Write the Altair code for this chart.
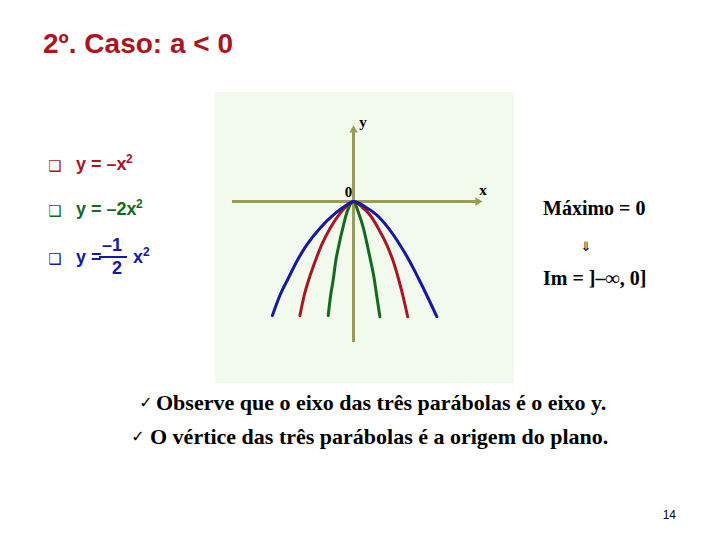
import altair as alt
import pandas as pd

# ---------------- data (math units) ----------------
# y = -x^2/2 (blue)
blue_x = [-2.95, -2.67, -2.37, -2.07, -1.70, -1.22, -0.73, -0.25, 0.0, 0.42, 0.84, 1.27, 1.69, 2.05, 2.36, 2.66, 3.03]
blue_y = [-4.15, -3.40, -2.79, -2.19, -1.58, -0.97, -0.49, -0.13, 0.0, -0.19, -0.49, -0.97, -1.58, -2.19, -2.79, -3.40, -4.19]
# y = -x^2 (red)
red_x = [-1.95, -1.79, -1.61, -1.40, -1.16, -0.85, -0.49, -0.21, 0.0, 0.30, 0.60, 0.90, 1.21, 1.45, 1.63, 1.79, 1.97]
red_y = [-4.15, -3.40, -2.79, -2.19, -1.58, -0.97, -0.43, -0.13, 0.0, -0.19, -0.49, -0.97, -1.58, -2.19, -2.79, -3.40, -4.19]
# y = -2x^2 (green)
green_x = [-0.92, -0.83, -0.73, -0.65, -0.53, -0.39, -0.25, -0.13, 0.0, 0.17, 0.36, 0.50, 0.63, 0.75, 0.84, 0.96]
green_y = [-4.15, -3.40, -2.79, -2.19, -1.58, -0.97, -0.43, -0.13, 0.0, -0.37, -0.97, -1.58, -2.19, -2.79, -3.40, -4.19]

# coordinate axes (math units)
haxis_x = [-4.42, 4.45]
vaxis_y = [-5.11, 2.60]
harrow = [4.56, 0.0]
varrow = [0.0, 2.64]

# texts
title_text = "2º. Caso: a < 0"
bullet_texts = ["y = –x", "y = –2x"]
frac_num, frac_den = "–1", "2"
max_text = "Máximo = 0"
im_text = "Im = ]–∞, 0]"
note_texts = ["Observe que o eixo das três parábolas é o eixo y.",
              "O vértice das três parábolas é a origem do plano."]
page_no = "14"

# ---------------- style ----------------
W, H = 704, 524
M = 8  # page margin
RED, GREEN, BLUE = "#AE1420", "#126A1E", "#1616A8"
OLIVE = "#9B9A55"
SANS, SERIF = "Liberation Sans", "Liberation Serif"

xs = alt.Scale(domain=[-12.564, 13.036], nice=False, zero=False)
ys = alt.Scale(domain=[-12.018, 7.036], nice=False, zero=False)

curves = pd.concat([
    pd.DataFrame({"x": green_x, "y": green_y, "c": "g"}),
    pd.DataFrame({"x": red_x, "y": red_y, "c": "r"}),
    pd.DataFrame({"x": blue_x, "y": blue_y, "c": "b"}),
])

layers = []

# panel background
layers.append(alt.Chart(pd.DataFrame({"a": [0]})).mark_rect(color="#F2FAEE").encode(
    x=alt.value(215 - M), x2=alt.value(514 - M), y=alt.value(92 - M), y2=alt.value(383 - M)))

# axes
layers.append(alt.Chart(pd.DataFrame({"x": [haxis_x[0]], "x2": [haxis_x[1]], "y": [0.0]}))
              .mark_rule(color=OLIVE, strokeWidth=3)
              .encode(x=alt.X("x:Q", scale=xs, axis=None), x2="x2:Q", y=alt.Y("y:Q", scale=ys, axis=None)))
layers.append(alt.Chart(pd.DataFrame({"x": [0.0], "y": [vaxis_y[0]], "y2": [vaxis_y[1]]}))
              .mark_rule(color=OLIVE, strokeWidth=3)
              .encode(x=alt.X("x:Q", scale=xs, axis=None), y=alt.Y("y:Q", scale=ys, axis=None), y2="y2:Q"))
layers.append(alt.Chart(pd.DataFrame({"x": [harrow[0]], "y": [harrow[1]]}))
              .mark_point(shape="triangle-right", filled=True, size=70, color=OLIVE, opacity=1)
              .encode(x=alt.X("x:Q", scale=xs, axis=None), y=alt.Y("y:Q", scale=ys, axis=None)))
layers.append(alt.Chart(pd.DataFrame({"x": [varrow[0]], "y": [varrow[1]]}))
              .mark_point(shape="triangle-up", filled=True, size=70, color=OLIVE, opacity=1)
              .encode(x=alt.X("x:Q", scale=xs, axis=None), y=alt.Y("y:Q", scale=ys, axis=None)))

# parabolas
for key, col in [("g", GREEN), ("r", RED), ("b", BLUE)]:
    layers.append(alt.Chart(curves[curves.c == key]).mark_line(
        color=col, strokeWidth=3, interpolate="monotone", strokeCap="round").encode(
        x=alt.X("x:Q", scale=xs, axis=None), y=alt.Y("y:Q", scale=ys, axis=None), order="x:Q"))


def txt(label, X, Y, size, color="black", font=SANS, weight="normal", align="left", baseline="middle"):
    return alt.Chart(pd.DataFrame({"t": [label]})).mark_text(
        font=font, fontSize=size, fontWeight=weight, color=color, align=align, baseline=baseline
    ).encode(text="t:N", x=alt.value(X - M), y=alt.value(Y - M))


# axis labels
layers.append(txt("y", 363, 122, 15, font=SERIF, weight="bold", align="center"))
layers.append(txt("x", 483, 190, 15, font=SERIF, weight="bold", align="center"))
layers.append(txt("0", 348.5, 192, 15, font=SERIF, weight="bold", align="center"))

# title
layers.append(txt(title_text, 43, 53, 28, RED, SANS, "bold", baseline="alphabetic"))

# bullets
for label, Yc, col, sup_x in [(bullet_texts[0], 165, RED, 126), (bullet_texts[1], 210, GREEN, 136)]:
    layers.append(txt("❑", 55, Yc + 1, 15, col, "DejaVu Sans", "bold", align="center"))
    layers.append(txt(label, 76, Yc, 18, col, SANS, "bold"))
    layers.append(txt("2", sup_x, Yc - 6, 12, col, SANS, "bold"))
layers.append(txt("❑", 55, 259, 15, BLUE, "DejaVu Sans", "bold", align="center"))
layers.append(txt("y =", 76, 258, 18, BLUE, SANS, "bold"))
layers.append(txt(frac_num, 112, 246, 18, BLUE, SANS, "bold", align="center"))
layers.append(txt(frac_den, 117, 269, 18, BLUE, SANS, "bold", align="center"))
layers.append(alt.Chart(pd.DataFrame({"a": [0]})).mark_rule(color=BLUE, strokeWidth=2).encode(
    x=alt.value(99 - M), x2=alt.value(127 - M), y=alt.value(257 - M)))
layers.append(txt("x", 133, 258, 18, BLUE, SANS, "bold"))
layers.append(txt("2", 143, 252, 12, BLUE, SANS, "bold"))

# right side
layers.append(txt(max_text, 543, 215, 20, "black", SERIF, "bold", baseline="alphabetic"))
layers.append(txt("⇓", 586, 247, 13, "black", "DejaVu Sans", align="center"))
layers.append(txt(im_text, 543, 285, 20, "black", SERIF, "bold", baseline="alphabetic"))

# notes
layers.append(txt("✓", 146, 403, 16, "black", "DejaVu Sans", align="center"))
layers.append(txt(note_texts[0], 156, 410, 22, "black", SERIF, "bold", baseline="alphabetic"))
layers.append(txt("✓", 138, 437, 16, "black", "DejaVu Sans", align="center"))
layers.append(txt(note_texts[1], 150, 444, 22, "black", SERIF, "bold", baseline="alphabetic"))

# page number
layers.append(txt(page_no, 676, 519, 12, "black", SANS, align="right", baseline="alphabetic"))

chart = alt.layer(*layers).properties(
    width=W, height=H, padding=0, background="white",
    autosize=alt.AutoSizeParams(type="fit", contains="padding"),
).configure_view(strokeWidth=0, stroke=None)

chart.save("out.html", embed_options={"renderer": "svg", "actions": False})
